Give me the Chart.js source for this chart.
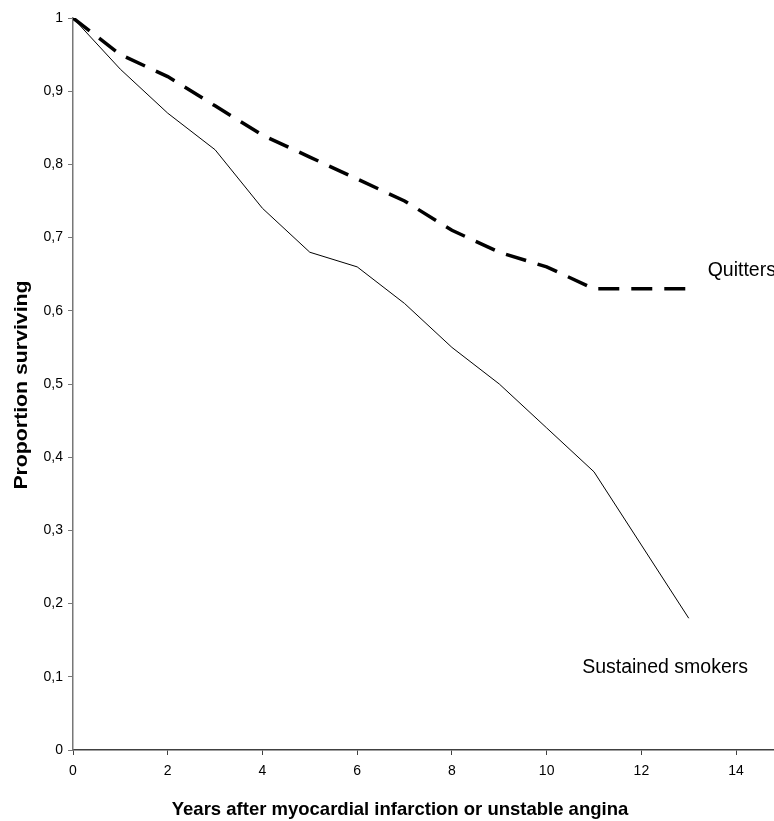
<!DOCTYPE html>
<html>
<head>
<meta charset="utf-8">
<script src="https://cdn.jsdelivr.net/npm/chart.js@4/dist/chart.umd.min.js"></script>
<style>
    html, body { margin: 0; padding: 0; background: #fff; }
    #wrap { width: 774px; height: 821px; }
</style>
</head>
<body>
<div id="wrap"><canvas id="survivalChart" width="774" height="821"></canvas></div>
<script>
// data
const years = [0, 1, 2, 3, 4, 5, 6, 7, 8, 9, 10, 11, 12, 13];
const quitters = [1, 0.95, 0.92, 0.88, 0.84, 0.81, 0.78, 0.75, 0.71, 0.68, 0.66, 0.63, 0.63, 0.63];
const smokers = [1, 0.93, 0.87, 0.82, 0.74, 0.68, 0.66, 0.61, 0.55, 0.5, 0.44, 0.38, 0.28, 0.18];
const xTicks = [0, 2, 4, 6, 8, 10, 12, 14];
const xTitle = 'Years after myocardial infarction or unstable angina';
const yTitle = 'Proportion surviving';
const seriesLabels = [
    { text: 'Quitters', x: 13.4, y: 0.655 },
    { text: 'Sustained smokers', x: 10.75, y: 0.112 }
];

const toPoints = (xs, ys) => xs.map((x, i) => ({ x: x, y: ys[i] }));

// titles and series names drawn by hand, like in the original sheet
const textPlugin = {
    id: 'textPlugin',
    afterDraw(chart) {
        const ctx = chart.ctx;
        const xs = chart.scales.x;
        const ys = chart.scales.y;
        ctx.save();
        ctx.fillStyle = '#000';

        ctx.font = '19.5px "Liberation Sans", Arial, sans-serif';
        ctx.textAlign = 'left';
        ctx.textBaseline = 'middle';
        seriesLabels.forEach(l => {
            ctx.fillText(l.text, xs.getPixelForValue(l.x), ys.getPixelForValue(l.y));
        });

        ctx.font = 'bold 18.5px "Liberation Sans", Arial, sans-serif';
        ctx.textAlign = 'center';
        ctx.textBaseline = 'alphabetic';
        ctx.fillText(xTitle, 400, 815);

        // y title looks stretched along its length in the original
        ctx.translate(27, 385);
        ctx.rotate(-Math.PI / 2);
        ctx.scale(1.15, 1);
        ctx.font = 'bold 18.5px "Liberation Sans", Arial, sans-serif';
        ctx.fillText(yTitle, 0, 0);
        ctx.restore();
    }
};

const ctx1 = document.getElementById('survivalChart').getContext('2d');
const survivalChart = new Chart(ctx1, {
    type: 'line',
    data: {
        datasets: [{
            label: 'Quitters',
            data: toPoints(years, quitters),
            borderColor: '#000',
            borderWidth: 3.5,
            borderDash: [21, 12],
            pointRadius: 0,
            tension: 0
        }, {
            label: 'Sustained smokers',
            data: toPoints(years, smokers),
            borderColor: '#000',
            borderWidth: 1,
            pointRadius: 0,
            tension: 0
        }]
    },
    options: {
        responsive: false,
        animation: false,
        layout: {
            padding: { top: 18, right: 0, left: 0, bottom: 0 }
        },
        plugins: {
            legend: { display: false },
            tooltip: { enabled: false },
            title: { display: false }
        },
        scales: {
            x: {
                type: 'linear',
                min: 0,
                max: 14.8,
                afterBuildTicks: (scale) => {
                    scale.ticks = xTicks.map(v => ({ value: v }));
                },
                afterFit: (scale) => { scale.height = 71; },
                ticks: {
                    color: '#000',
                    padding: 8,
                    maxRotation: 0,
                    autoSkip: false,
                    font: { family: '"Liberation Sans", Arial, sans-serif', size: 14 }
                },
                grid: {
                    drawOnChartArea: false,
                    drawTicks: true,
                    tickLength: 5,
                    color: '#404040'
                },
                border: { color: '#404040', width: 1.5 }
            },
            y: {
                min: 0,
                max: 1,
                afterFit: (scale) => { scale.width = 73; },
                ticks: {
                    stepSize: 0.1,
                    color: '#000',
                    padding: 5,
                    font: { family: '"Liberation Sans", Arial, sans-serif', size: 14 },
                    callback: (v) => {
                        const r = Math.round(v * 10) / 10;
                        return String(r).replace('.', ',');
                    }
                },
                grid: {
                    drawOnChartArea: false,
                    drawTicks: true,
                    tickLength: 5,
                    color: '#777'
                },
                border: { color: '#777', width: 1.5 }
            }
        }
    },
    plugins: [textPlugin]
});
</script>
</body>
</html>
